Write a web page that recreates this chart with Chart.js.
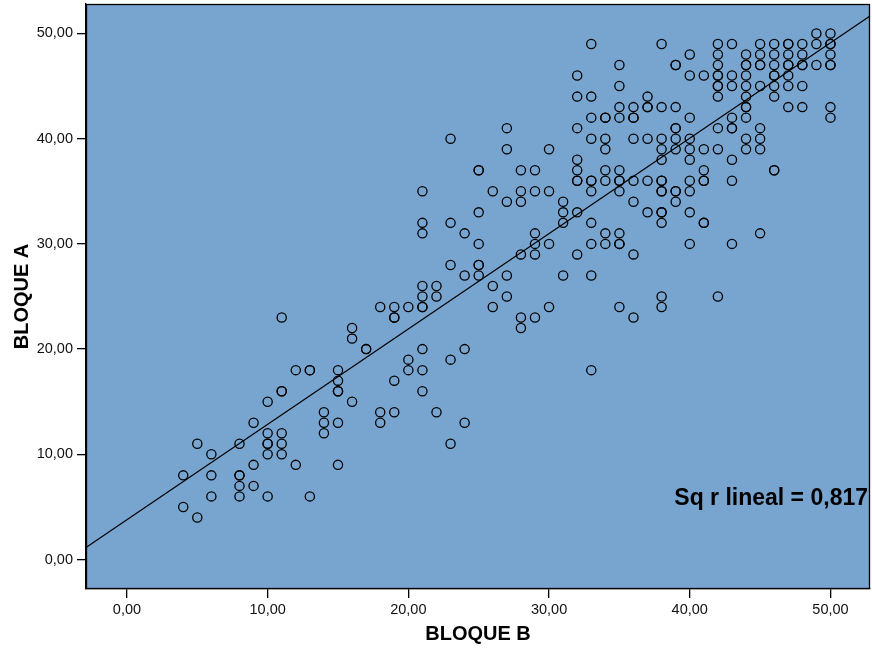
<!DOCTYPE html>
<html>
<head>
<meta charset="utf-8">
<script src="https://cdn.jsdelivr.net/npm/chart.js@4/dist/chart.umd.min.js"></script>
<style>
  html, body { margin: 0; padding: 0; background: #fff; }
  #wrap { width: 872px; height: 650px; }
</style>
</head>
<body>
<div id="wrap"><canvas id="chart" width="872" height="650"></canvas></div>
<script>
// BLOQUE B values (x) and the BLOQUE A scores seen at each of them (y)
var bloqueB = [4, 5, 6, 8, 9, 10, 11, 12, 13, 14, 15, 16, 17, 18, 19, 20, 21, 22, 23, 24, 25,
    26, 27, 28, 29, 30, 31, 32, 33, 34, 35, 36, 37, 38, 39, 40, 41, 42, 43, 44, 45, 46, 47, 48, 49, 50];
var bloqueA = [
    [8, 5], [11, 4], [10, 8, 6], [11, 8, 8, 7, 6], [13, 9, 7], [15, 12, 11, 11, 10, 6],
    [23, 16, 16, 12, 11, 10], [18, 9], [18, 18, 6], [14, 13, 12], [18, 17, 16, 16, 13, 9],
    [22, 21, 15], [20, 20], [24, 14, 13], [24, 23, 23, 17, 14], [24, 19, 18],
    [35, 32, 31, 26, 25, 24, 24, 20, 18, 16], [26, 25, 14], [40, 32, 28, 19, 11],
    [31, 27, 20, 13], [37, 37, 33, 30, 28, 28, 27], [35, 26, 24], [41, 39, 34, 27, 25],
    [37, 35, 34, 29, 23, 22], [37, 35, 31, 30, 29, 23], [39, 35, 30, 24], [34, 33, 32, 27],
    [46, 44, 41, 38, 37, 36, 36, 33, 29], [49, 44, 42, 40, 36, 36, 35, 32, 30, 27, 18],
    [42, 42, 40, 39, 37, 36, 31, 30], [47, 45, 43, 42, 37, 36, 36, 35, 31, 30, 30, 24],
    [43, 42, 42, 40, 36, 34, 29, 23], [44, 43, 43, 40, 36, 33],
    [49, 43, 40, 39, 38, 36, 36, 35, 35, 33, 33, 32, 25, 24],
    [47, 47, 43, 41, 41, 40, 39, 35, 35, 34], [48, 46, 42, 40, 39, 38, 36, 35, 33, 30],
    [46, 39, 37, 36, 36, 32, 32], [49, 48, 47, 46, 46, 45, 45, 44, 41, 39, 25],
    [49, 46, 45, 42, 41, 41, 38, 36, 30], [48, 47, 47, 46, 45, 44, 43, 43, 42, 40, 39],
    [49, 48, 47, 47, 45, 41, 40, 39, 31], [49, 48, 47, 46, 46, 45, 44, 37, 37],
    [49, 49, 48, 47, 47, 46, 45, 43], [49, 48, 47, 47, 45, 43], [50, 49, 47],
    [50, 49, 49, 48, 47, 47, 43, 42]
];
var xTicks = [0, 10, 20, 30, 40, 50];
var yTicks = [0, 10, 20, 30, 40, 50];
var fitLabel = 'Sq r lineal = 0,817';

var X_MIN = -2.91, X_MAX = 52.81, Y_MIN = -2.8, Y_MAX = 52.8;
var FONT = 'Arial, "Liberation Sans", sans-serif';

var points = [];
bloqueB.forEach(function (b, i) {
    bloqueA[i].forEach(function (a) { points.push({x: b, y: a}); });
});

// least squares line through the points
var n = points.length, sx = 0, sy = 0, sxx = 0, sxy = 0;
points.forEach(function (p) { sx += p.x; sy += p.y; sxx += p.x * p.x; sxy += p.x * p.y; });
var slope = (n * sxy - sx * sy) / (n * sxx - sx * sx);
var icpt = (sy - slope * sx) / n;
var fitLine = [{x: X_MIN, y: icpt + slope * X_MIN}, {x: X_MAX, y: icpt + slope * X_MAX}];

function fmt(v) { return v.toFixed(2).replace('.', ','); }

var plotBox = {
    id: 'plotBox',
    beforeDatasetsDraw: function (chart) {
        var a = chart.chartArea, ctx = chart.ctx;
        ctx.save();
        ctx.fillStyle = '#77a5cf';
        ctx.fillRect(a.left, a.top, a.right - a.left, a.bottom - a.top);
        ctx.restore();
    },
    afterDraw: function (chart) {
        var a = chart.chartArea, ctx = chart.ctx;
        ctx.save();
        ctx.strokeStyle = '#000';
        ctx.lineWidth = 1.3;
        ctx.strokeRect(a.left + 0.5, a.top + 0.5, a.right - a.left - 1, a.bottom - a.top - 1);
        ctx.fillStyle = '#000';
        ctx.font = 'bold 23px ' + FONT;
        ctx.textAlign = 'right';
        ctx.textBaseline = 'middle';
        ctx.fillText(fitLabel, a.right - 2, a.bottom - 90);
        ctx.restore();
    }
};

var ctx = document.getElementById('chart');
new Chart(ctx, {
    type: 'scatter',
    data: {
        datasets: [{
            label: 'BLOQUE A',
            data: points,
            pointStyle: 'circle',
            pointRadius: 4.6,
            pointHoverRadius: 4.6,
            pointBorderWidth: 1.3,
            pointBorderColor: '#000',
            pointBackgroundColor: 'rgba(0,0,0,0)',
            order: 1
        }, {
            type: 'line',
            label: 'fit',
            data: fitLine,
            borderColor: '#000',
            borderWidth: 1.1,
            pointRadius: 0,
            fill: false,
            order: 2
        }]
    },
    options: {
        responsive: false,
        animation: false,
        events: [],
        layout: {autoPadding: false, padding: {left: 0, right: 2, top: 4, bottom: 0}},
        plugins: {legend: {display: false}, tooltip: {enabled: false}},
        scales: {
            x: {
                type: 'linear',
                min: X_MIN,
                max: X_MAX,
                afterBuildTicks: function (s) { s.ticks = xTicks.map(function (v) { return {value: v}; }); },
                afterFit: function (s) { s.height = 61; s.paddingLeft = 0; s.paddingRight = 0; },
                grid: {display: true, drawOnChartArea: false, drawTicks: true, tickLength: 9, color: '#000', lineWidth: 1.3},
                border: {display: true, color: '#000', width: 1.3},
                ticks: {color: '#111', padding: 3, maxRotation: 0, font: {family: FONT, size: 14.5}, callback: fmt},
                title: {display: true, text: 'BLOQUE B', color: '#000', padding: {top: 0, bottom: 4},
                    font: {family: FONT, size: 20, weight: 'bold'}}
            },
            y: {
                type: 'linear',
                min: Y_MIN,
                max: Y_MAX,
                afterBuildTicks: function (s) { s.ticks = yTicks.map(function (v) { return {value: v}; }); },
                afterFit: function (s) { s.width = 86; s.paddingTop = 0; s.paddingBottom = 0; },
                grid: {display: true, drawOnChartArea: false, drawTicks: true, tickLength: 9, color: '#000', lineWidth: 1.3},
                border: {display: true, color: '#000', width: 1.3},
                ticks: {color: '#111', padding: 4, font: {family: FONT, size: 14.5}, callback: fmt},
                title: {display: true, text: 'BLOQUE A', color: '#000', padding: {top: 10, bottom: 0},
                    font: {family: FONT, size: 20, weight: 'bold'}}
            }
        }
    },
    plugins: [plotBox]
});
</script>
</body>
</html>
